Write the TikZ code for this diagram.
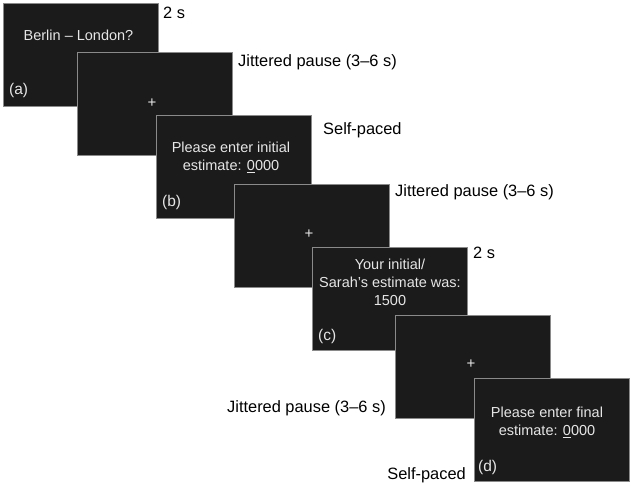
\documentclass[tikz,border=0pt]{standalone}
\usepackage{fontspec}
\setmainfont{Liberation Sans}
\definecolor{scr}{HTML}{1B1B1B}
\definecolor{scrborder}{HTML}{8A8A8A}
\definecolor{scrtext}{HTML}{E6E6E6}
\tikzset{
  screen/.style={fill=scr, draw=scrborder, line width=1.2pt, rectangle, minimum width=155pt, minimum height=103pt, inner sep=0pt},
  stext/.style={text=scrtext, font=\fontsize{14.5}{18}\selectfont, align=center, inner sep=0pt},
  slabel/.style={text=scrtext, font=\fontsize{15.5}{18}\selectfont, inner sep=0pt, anchor=west},
  cross/.style={text=scrtext, font=\fontsize{15}{15}\selectfont, inner sep=0pt},
  timing/.style={text=black, font=\fontsize{16.4}{20}\selectfont, inner sep=0pt, anchor=west}
}
\begin{document}
\begin{tikzpicture}[x=1pt,y=-1pt]
\useasboundingbox (0,0) rectangle (633,486);
\fill[white] (0,0) rectangle (633,486);
% screens (drawn back to front)
\node[screen, anchor=north west] (s1) at (3,3) {};
\node[stext] (t1) at (78.5,35) {Berlin – London?};
\node[slabel] (la) at (9,90) {(a)};
\node[timing] (d1) at (163,13) {2 s};

\node[screen, anchor=north west] (s2) at (77,52) {};
\node[cross] (c2) at (152,103) {+};
\node[timing] (d2) at (238,62) {Jittered pause (3–6 s)};

\node[screen, anchor=north west] (s3) at (156,115) {};
\node[stext] (t3) at (231,157) {Please enter initial\\estimate: \underline{0}000};
\node[slabel] (lb) at (162,202) {(b)};
\node[timing] (d3) at (323,130) {Self-paced};

\node[screen, anchor=north west] (s4) at (234,184) {};
\node[cross] (c4) at (309,234) {+};
\node[timing] (d4) at (395,192) {Jittered pause (3–6 s)};

\node[screen, anchor=north west] (s5) at (312,247) {};
\node[stext] (t5) at (390,282) {Your initial/\\Sarah’s estimate was:\\1500};
\node[slabel] (lc) at (318,336) {(c)};
\node[timing] (d5) at (473,253) {2 s};

\node[screen, anchor=north west] (s6) at (395,315) {};
\node[cross] (c6) at (471,364) {+};
\node[timing, anchor=east] (d6) at (386,408) {Jittered pause (3–6 s)};

\node[screen, anchor=north west] (s7) at (474,378) {};
\node[stext] (t7) at (547,422) {Please enter final\\estimate: \underline{0}000};
\node[slabel] (ld) at (478,467) {(d)};
\node[timing, anchor=east] (d7) at (466,475) {Self-paced};
\end{tikzpicture}
\end{document}
